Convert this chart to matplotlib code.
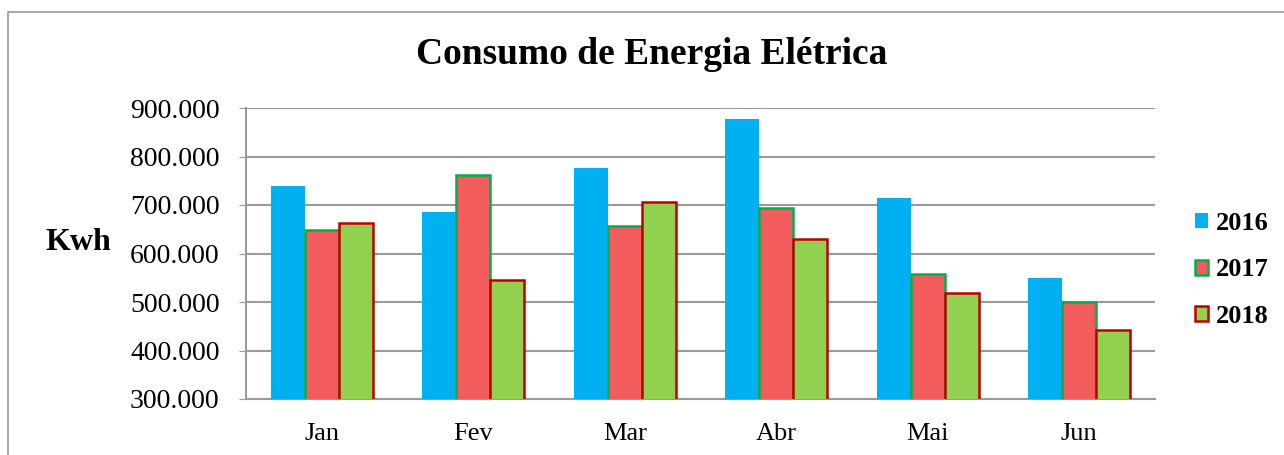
import matplotlib.pyplot as plt
import matplotlib.patches as patches
import numpy as np

months = ['Jan', 'Fev', 'Mar', 'Abr', 'Mai', 'Jun']
years = ['2016', '2017', '2018']
v2016 = [739000, 686000, 777000, 877000, 715000, 549000]
v2017 = [648000, 762000, 657000, 693000, 557000, 500000]
v2018 = [662000, 545000, 706000, 629000, 518000, 442000]

plt.rcParams['font.family'] = ['Liberation Serif', 'DejaVu Serif']

fig = plt.figure(figsize=(12.84, 4.55), dpi=100)
ax = fig.add_axes([246 / 1284, 1 - 399 / 455, 909 / 1284, 291 / 455])

# outer chart border
fig.patches.append(patches.Rectangle((8 / 1284, -0.1), 1.1, 0.1 + 1 - 12 / 455,
                                     transform=fig.transFigure, fill=False,
                                     edgecolor='#9a9a9a', linewidth=1.2))

x = np.arange(len(months))
w = 0.224
ax.bar(x - w, v2016, w, color='#00B0F0', label=years[0], zorder=3)
ax.bar(x, v2017, w, color='#F25C5C', edgecolor='#00B050', linewidth=1.8, label=years[1], zorder=3)
ax.bar(x + w, v2018, w, color='#92D050', edgecolor='#C00000', linewidth=1.8, label=years[2], zorder=3)

ax.set_xlim(-0.5, 5.5)
ax.set_ylim(300000, 900000)
ax.set_yticks(np.arange(300000, 900001, 100000))
ax.set_yticklabels(['{:,}'.format(v).replace(',', '.') for v in range(300000, 900001, 100000)],
                   fontsize=20)
ax.set_xticks(x)
ax.set_xticklabels(months, fontsize=19)
ax.tick_params(axis='x', length=0, pad=17)
ax.tick_params(axis='y', length=5, color='#9a9a9a', pad=14)
ax.yaxis.grid(True, color='#9a9a9a', linewidth=1.5, zorder=0)
ax.set_axisbelow(True)
for s in ['top', 'right']:
    ax.spines[s].set_visible(False)
for s in ['left', 'bottom']:
    ax.spines[s].set_color('#9a9a9a')
    ax.spines[s].set_linewidth(1.5)

fig.text(652 / 1284, 1 - 55 / 455, 'Consumo de Energia Elétrica', fontsize=27,
         fontweight='bold', ha='center', va='center')
fig.text(78 / 1284, 1 - 242 / 455, 'Kwh', fontsize=23, fontweight='bold',
         ha='center', va='center')

fig.legend(loc='center left', bbox_to_anchor=(1184 / 1284, 1 - 270 / 455),
           frameon=False, prop={'size': 19, 'weight': 'bold'},
           handlelength=0.5, handleheight=0.5, handletextpad=0.3, labelspacing=0.9,
           borderaxespad=0)

fig.savefig('out.png', dpi=100)
